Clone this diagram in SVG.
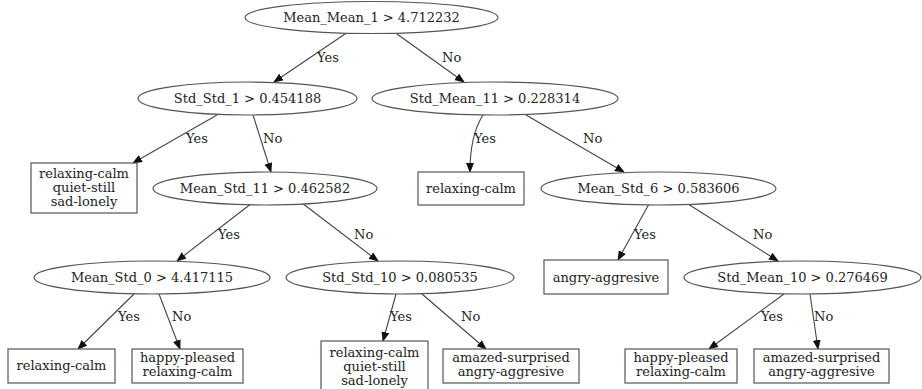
<svg xmlns="http://www.w3.org/2000/svg" width="922" height="389" viewBox="0 0 922 389">
<defs>
<marker id="arr" markerWidth="10" markerHeight="8" refX="9" refY="4" orient="auto" markerUnits="userSpaceOnUse">
<path d="M0,0 L10,4 L0,8 Z" fill="#111"/>
</marker>
<style>
text{font-family:"DejaVu Serif","Liberation Serif",serif;font-size:13px;fill:#222}
.n text{text-anchor:middle}
.n ellipse,.n rect{fill:#fff;stroke:#555;stroke-width:1.2}
.e path{fill:none;stroke:#444;stroke-width:1.1;marker-end:url(#arr)}
</style>
</defs>
<rect width="922" height="389" fill="#fff"/>
<g id="edges" class="e">
<path d="M345,34 L274,82"/>
<path d="M397,34 L464,82"/>
<path d="M217,115 L133,163"/>
<path d="M253,115 L271,172"/>
<path d="M483,115 Q470,135 470,172"/>
<path d="M526,115 L624,172"/>
<path d="M252,203 L177,261"/>
<path d="M302,203 L378,261"/>
<path d="M649,204 L618,260"/>
<path d="M688,204 L778,261"/>
<path d="M134,294 L78,349"/>
<path d="M159,294 L180,349"/>
<path d="M396,294 L383,341"/>
<path d="M422,294 L486,349"/>
<path d="M784,294 L709,349"/>
<path d="M810,294 L818,349"/>
</g>
<g id="edge-labels">
<text x="317" y="62">Yes</text>
<text x="442" y="62">No</text>
<text x="186" y="143">Yes</text>
<text x="263" y="143">No</text>
<text x="474" y="143">Yes</text>
<text x="583" y="143">No</text>
<text x="218" y="239">Yes</text>
<text x="354" y="239">No</text>
<text x="634" y="239">Yes</text>
<text x="753" y="239">No</text>
<text x="118" y="321">Yes</text>
<text x="172" y="321">No</text>
<text x="390" y="321">Yes</text>
<text x="461" y="321">No</text>
<text x="761" y="321">Yes</text>
<text x="814" y="321">No</text>
</g>
<g id="n0" class="n"><ellipse cx="371.5" cy="17.5" rx="126.5" ry="16"/><text x="371.5" y="22">Mean_Mean_1 &gt; 4.712232</text></g>
<g id="n1" class="n"><ellipse cx="247.5" cy="98.5" rx="109.5" ry="16.5"/><text x="247.5" y="103">Std_Std_1 &gt; 0.454188</text></g>
<g id="n2" class="n"><ellipse cx="495" cy="98.5" rx="123" ry="16.5"/><text x="495" y="103">Std_Mean_11 &gt; 0.228314</text></g>
<g id="n3" class="n"><rect x="31" y="163" width="106" height="50"/><text x="84" y="178">relaxing-calm</text><text x="84" y="192">quiet-still</text><text x="84" y="206">sad-lonely</text></g>
<g id="n4" class="n"><ellipse cx="265" cy="188.5" rx="112" ry="16.5"/><text x="265" y="193">Mean_Std_11 &gt; 0.462582</text></g>
<g id="n5" class="n"><rect x="418" y="172" width="106" height="33"/><text x="471" y="193">relaxing-calm</text></g>
<g id="n6" class="n"><ellipse cx="658.5" cy="188.5" rx="117.5" ry="16.5"/><text x="658.5" y="193">Mean_Std_6 &gt; 0.583606</text></g>
<g id="n7" class="n"><ellipse cx="152" cy="277.5" rx="118" ry="16.5"/><text x="152" y="282">Mean_Std_0 &gt; 4.417115</text></g>
<g id="n8" class="n"><ellipse cx="400" cy="277.5" rx="114" ry="16.5"/><text x="400" y="282">Std_Std_10 &gt; 0.080535</text></g>
<g id="n9" class="n"><rect x="544" y="260" width="124" height="34"/><text x="606" y="282">angry-aggresive</text></g>
<g id="n10" class="n"><ellipse cx="802.5" cy="277.5" rx="118.5" ry="16.5"/><text x="802.5" y="282">Std_Mean_10 &gt; 0.276469</text></g>
<g id="n11" class="n"><rect x="8" y="349" width="107" height="34"/><text x="61.5" y="370">relaxing-calm</text></g>
<g id="n12" class="n"><rect x="132" y="349" width="111" height="34"/><text x="187.5" y="362">happy-pleased</text><text x="187.5" y="376">relaxing-calm</text></g>
<g id="n13" class="n"><rect x="321" y="341" width="107" height="50"/><text x="374.5" y="357">relaxing-calm</text><text x="374.5" y="371">quiet-still</text><text x="374.5" y="385">sad-lonely</text></g>
<g id="n14" class="n"><rect x="443" y="349" width="136" height="34"/><text x="511" y="362">amazed-surprised</text><text x="511" y="376">angry-aggresive</text></g>
<g id="n15" class="n"><rect x="625" y="349" width="112" height="34"/><text x="681" y="362">happy-pleased</text><text x="681" y="376">relaxing-calm</text></g>
<g id="n16" class="n"><rect x="754" y="349" width="135" height="34"/><text x="821.5" y="362">amazed-surprised</text><text x="821.5" y="376">angry-aggresive</text></g>
</svg>
